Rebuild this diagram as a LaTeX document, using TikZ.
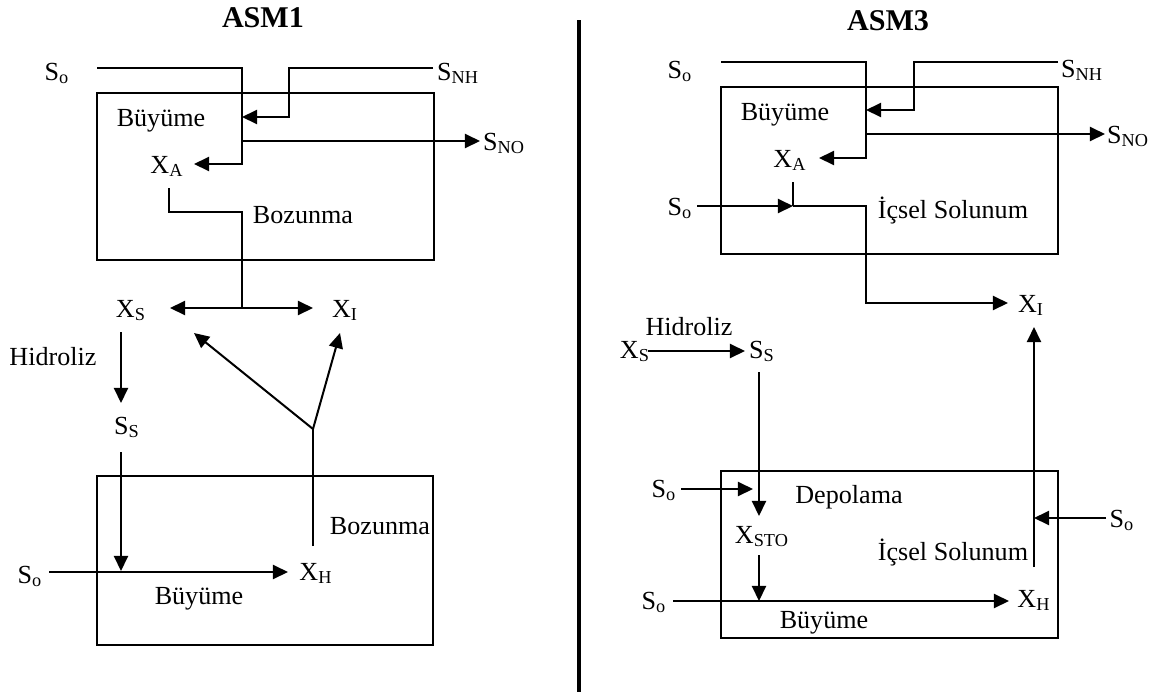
\documentclass[tikz,border=0pt]{standalone}
\usepackage{fontspec}
\setmainfont{Liberation Serif}
\usetikzlibrary{arrows.meta}

\begin{document}
\begin{tikzpicture}[x=0.0175cm,y=-0.0175cm,>={Triangle[length=7.5pt,width=7pt]}]
  \tikzstyle{lbl}=[inner sep=0pt,anchor=base,font=\fontsize{13}{15}\selectfont]
  \tikzstyle{title}=[inner sep=0pt,anchor=base,font=\fontsize{15}{18}\selectfont\bfseries]
  \tikzstyle{flow}=[line width=1pt]
  \tikzstyle{stage}=[draw,line width=1pt]
  \useasboundingbox (0,0) rectangle (1158,692);
  % ASM1
  \node[title] (asm1) at (263,27) {ASM1};
  \draw[stage] (97,93) rectangle (434,260);
  \node[lbl] (so1) at (57,80) {S\textsubscript{o}};
  \node[lbl] (snh1) at (458,80) {S\textsubscript{NH}};
  \node[lbl] (gr1) at (161,126) {Büyüme};
  \node[lbl] (sno1) at (504,150) {S\textsubscript{NO}};
  \node[lbl] (xa1) at (167,173) {X\textsubscript{A}};
  \node[lbl] (dec1) at (303,223) {Bozunma};
  \node[lbl] (xs1) at (131,317) {X\textsubscript{S}};
  \node[lbl] (xi1) at (345,317) {X\textsubscript{I}};
  \coordinate (so1e) at (97,68);
  \coordinate (snh1w) at (433,68);
  \coordinate (nh1k) at (289,117);
  \coordinate (nh1in) at (242,117);
  \coordinate (xa1in) at (194,164);
  \coordinate (no1out) at (242,141);
  \coordinate (no1tip) at (480,141);
  \coordinate (xa1s) at (169,188);
  \coordinate (dec1k) at (242,212);
  \coordinate (dec1j) at (242,308);
  \coordinate (xs1tip) at (170,308);
  \coordinate (xi1tip) at (313,308);
  \draw[flow,->] (so1e) -| (nh1in) |- (xa1in);
  \draw[flow,->] (snh1w) -| (nh1k) -- (nh1in);
  \draw[flow,->] (no1out) -- (no1tip);
  \draw[flow] (xa1s) |- (dec1k) -- (dec1j);
  \draw[flow,->] (dec1j) -- (xs1tip);
  \draw[flow,->] (dec1j) -- (xi1tip);
  \draw[stage] (97,476) rectangle (433,645);
  \node[lbl] (hyd1) at (53,365) {Hidroliz};
  \node[lbl] (ss1) at (127,434) {S\textsubscript{S}};
  \node[lbl] (dec2) at (380,534) {Bozunma};
  \node[lbl] (xh1) at (316,580) {X\textsubscript{H}};
  \node[lbl] (so2) at (30,583) {S\textsubscript{o}};
  \node[lbl] (gr2) at (199,604) {Büyüme};
  \coordinate (xs1s) at (121,332);
  \coordinate (hyd1tip) at (121,403);
  \coordinate (ss1s) at (121,452);
  \coordinate (gr2in) at (121,571);
  \coordinate (so2e) at (49,572);
  \coordinate (xh1tip) at (288,572);
  \coordinate (xh1n) at (313,546);
  \coordinate (dec2j) at (313,429);
  \coordinate (xs1d) at (194,333);
  \coordinate (xi1d) at (340,333);
  \draw[flow,->] (xs1s) -- (hyd1tip);
  \draw[flow,->] (ss1s) -- (gr2in);
  \draw[flow,->] (so2e) -- (xh1tip);
  \draw[flow] (xh1n) -- (dec2j);
  \draw[flow,->] (dec2j) -- (xs1d);
  \draw[flow,->] (dec2j) -- (xi1d);
  % divider
  \coordinate (divtop) at (579,20);
  \coordinate (divbot) at (579,692);
  \draw[line width=2pt] (divtop) -- (divbot);
  % ASM3
  \node[title] (asm3) at (888,30) {ASM3};
  \draw[stage] (721,87) rectangle (1058,254);
  \node[lbl] (so3) at (680,78) {S\textsubscript{o}};
  \node[lbl] (snh3) at (1082,77) {S\textsubscript{NH}};
  \node[lbl] (gr3) at (785,120) {Büyüme};
  \node[lbl] (sno3) at (1128,143) {S\textsubscript{NO}};
  \node[lbl] (xa3) at (790,167) {X\textsubscript{A}};
  \node[lbl] (so4) at (680,215) {S\textsubscript{o}};
  \node[lbl] (resp3) at (953,218) {İçsel Solunum};
  \node[lbl] (xi3) at (1031,312) {X\textsubscript{I}};
  \coordinate (so3e) at (721,62);
  \coordinate (snh3w) at (1058,62);
  \coordinate (nh3k) at (914,110);
  \coordinate (nh3in) at (866,110);
  \coordinate (xa3in) at (819,158);
  \coordinate (no3out) at (866,134);
  \coordinate (no3tip) at (1105,134);
  \coordinate (xa3s) at (793,182);
  \coordinate (so4e) at (697,206);
  \coordinate (r3j) at (793,206);
  \coordinate (r3k) at (866,206);
  \coordinate (xi3tip) at (1008,303);
  \draw[flow,->] (so3e) -| (nh3in) |- (xa3in);
  \draw[flow,->] (snh3w) -| (nh3k) -- (nh3in);
  \draw[flow,->] (no3out) -- (no3tip);
  \draw[flow,->] (so4e) -- (r3j);
  \draw[flow] (xa3s) -- (r3j);
  \draw[flow,->] (r3j) -- (r3k) |- (xi3tip);
  \draw[stage] (721,471) rectangle (1058,638);
  \node[lbl] (hyd3) at (689,335) {Hidroliz};
  \node[lbl] (xs3) at (635,358) {X\textsubscript{S}};
  \node[lbl] (ss3) at (762,358) {S\textsubscript{S}};
  \node[lbl] (so5) at (664,497) {S\textsubscript{o}};
  \node[lbl] (dep3) at (849,503) {Depolama};
  \node[lbl] (so7) at (1122,527) {S\textsubscript{o}};
  \node[lbl] (xsto3) at (762,543) {X\textsubscript{STO}};
  \node[lbl] (resp4) at (953,560) {İçsel Solunum};
  \node[lbl] (xh3) at (1034,607) {X\textsubscript{H}};
  \node[lbl] (so6) at (654,609) {S\textsubscript{o}};
  \node[lbl] (gr4) at (824,628) {Büyüme};
  \coordinate (xs3e) at (648,351);
  \coordinate (ss3tip) at (745,351);
  \coordinate (ss3s) at (759,372);
  \coordinate (sto3in) at (759,516);
  \coordinate (so5e) at (681,489);
  \coordinate (sto3so) at (753,489);
  \coordinate (xsto3s) at (759,555);
  \coordinate (gr4in) at (759,601);
  \coordinate (so6e) at (673,601);
  \coordinate (xh3tip) at (1009,601);
  \coordinate (xh3n) at (1034,567);
  \coordinate (xi3d) at (1034,327);
  \coordinate (so7w) at (1106,518);
  \coordinate (resp4in) at (1034,518);
  \draw[flow,->] (xs3e) -- (ss3tip);
  \draw[flow,->] (ss3s) -- (sto3in);
  \draw[flow,->] (so5e) -- (sto3so);
  \draw[flow,->] (xsto3s) -- (gr4in);
  \draw[flow,->] (so6e) -- (xh3tip);
  \draw[flow,->] (xh3n) -- (xi3d);
  \draw[flow,->] (so7w) -- (resp4in);
\end{tikzpicture}
\end{document}
